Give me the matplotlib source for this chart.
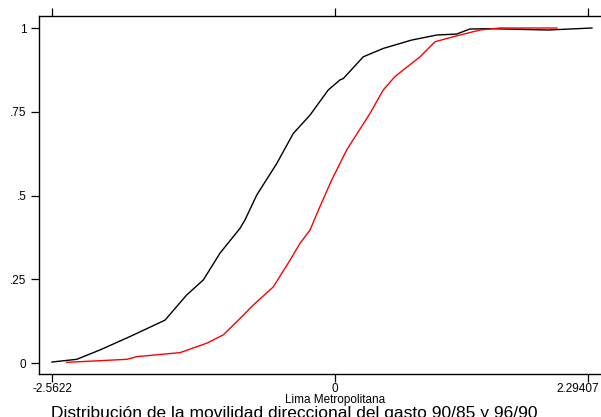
import numpy as np
import matplotlib
matplotlib.use('Agg')
import matplotlib.pyplot as plt
import matplotlib.transforms as mtransforms

plt.rcParams['font.family'] = ['Liberation Sans', 'DejaVu Sans']

# movilidad 90/85 (negro)
x_9085 = [-2.5622, -2.339, -2.128, -1.856, -1.539, -1.343, -1.192, -1.041, -0.860,
          -0.815, -0.709, -0.528, -0.378, -0.226, -0.061, 0.045, 0.075, 0.256,
          0.437, 0.694, 0.921, 1.102, 1.222, 1.403, 1.928, 2.327]
y_9085 = [0.003, 0.011, 0.039, 0.079, 0.128, 0.203, 0.248, 0.328, 0.402,
          0.427, 0.501, 0.595, 0.685, 0.740, 0.815, 0.845, 0.849, 0.914,
          0.939, 0.964, 0.979, 0.982, 0.997, 0.998, 0.994, 1.0]

# movilidad 96/90 (rojo)
x_9690 = [-2.429, -1.886, -1.795, -1.403, -1.162, -1.011, -0.860, -0.740, -0.559,
          -0.407, -0.317, -0.226, -0.136, -0.030, 0.106, 0.317, 0.437, 0.543,
          0.770, 0.906, 1.071, 1.192, 1.313, 1.494, 2.010]
y_9690 = [0.002, 0.011, 0.019, 0.031, 0.059, 0.084, 0.133, 0.173, 0.227,
          0.307, 0.357, 0.397, 0.467, 0.546, 0.636, 0.745, 0.815, 0.855,
          0.914, 0.959, 0.974, 0.984, 0.994, 1.0, 1.0]

xticks = [-2.5622, 0, 2.29407]
xtick_labels = ['-2.5622', '0', '2.29407']
yticks = [0, 0.25, 0.5, 0.75, 1]
ytick_labels = ['0', '.25', '.5', '.75', '1']

fig = plt.figure(figsize=(6.01, 4.17), dpi=100)
ax = fig.add_axes([0.0649, 0.1031, 0.95, 0.8585])

ax.plot(x_9085, y_9085, color='black', lw=1.0)
ax.plot(x_9690, y_9690, color='red', lw=1.0)

ax.set_xlim(-2.680, 2.490)
ax.set_ylim(-0.0328, 1.0358)

ax.set_xticks(xticks)
ax.set_xticklabels(xtick_labels)
ax.set_yticks(yticks)
ax.set_yticklabels(ytick_labels)
ax.tick_params(axis='both', direction='out', length=6, width=0.9,
               labelsize=8.5, colors='black')
ax.tick_params(axis='y', pad=3)
ax.tick_params(axis='x', pad=0.5, top=True)

# la ultima etiqueta se corre a la izquierda para que quepa
last = ax.get_xticklabels()[-1]
last.set_horizontalalignment('right')
last.set_transform(last.get_transform() +
                   mtransforms.ScaledTranslation(11 / 100, 0, fig.dpi_scale_trans))

for s in ax.spines.values():
    s.set_linewidth(1.0)
ax.spines['right'].set_visible(False)

fig.text(335 / 601, 1 - 400.5 / 417, 'Lima Metropolitana',
         ha='center', va='center', fontsize=8.5)

fig.text(294 / 601, 1 - 406 / 417,
         'Distribución de la movilidad direccional del gasto 90/85 y 96/90',
         ha='center', va='top', fontsize=12.5)

fig.savefig('out.png', dpi=100)
